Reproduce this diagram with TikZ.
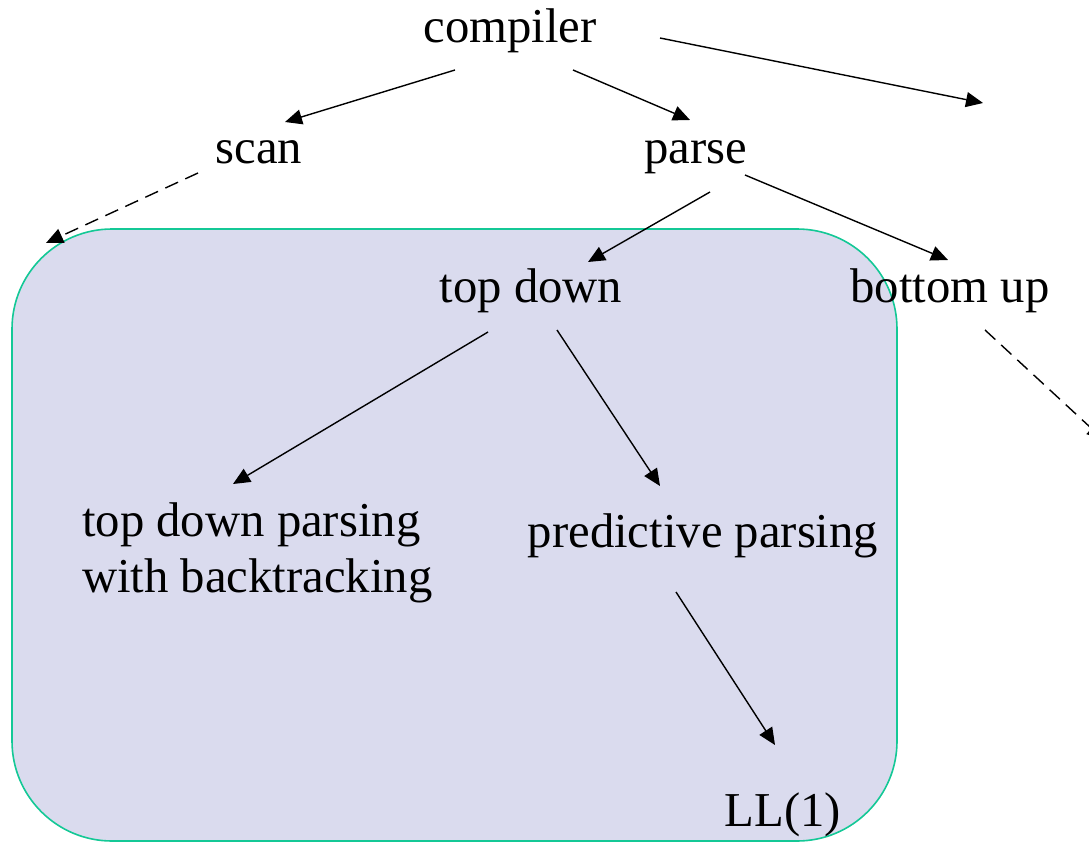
\documentclass[tikz,border=0pt]{standalone}
\usepackage{fontspec}
\setmainfont{Liberation Serif}
\usetikzlibrary{arrows.meta}
\definecolor{boxfill}{RGB}{218,219,238}
\definecolor{boxline}{RGB}{20,200,150}
\begin{document}
\begin{tikzpicture}[x=1pt, y=-1pt, line join=round,
	lbl/.style={inner sep=0pt, anchor=base, font=\fontsize{48.7}{56}\selectfont},
	link/.style={-{Triangle[length=17pt, width=15pt]}, line width=1.4pt},
	dlink/.style={link, dash pattern=on 14pt off 8pt}]
	\useasboundingbox (0,0) rectangle (1089,843);
	\clip (0,0) rectangle (1089,843);
	% the box round top down
	\draw[fill=boxfill, draw=boxline, line width=1.6pt, rounded corners=100pt]
	(12,229) rectangle (897,841);
	\node[lbl] (compiler) at (510,43) {compiler};
	\node[lbl] (scan) at (259,163) {scan};
	\node[lbl] (parse) at (696,163) {parse};
	\node[lbl] (topdown) at (531,302) {top down};
	\node[lbl] (bottomup) at (950,302) {bottom up};
	\node[lbl, anchor=base west, align=left] (backtrack) at (82,592) {top down parsing\\with backtracking};
	\node[lbl] (predictive) at (703,547) {predictive parsing};
	\node[lbl] (ll) at (783,826) {LL(1)};
	\path
	(983,103) coordinate (rest)
	(46,243) coordinate (scanbox)
	(1104,440) coordinate (upbox)
	;
	\draw[link] ([shift={(-55,27)}]compiler.base) -- ([shift={(26,-41)}]scan.base);
	\draw[link] ([shift={(63,27)}]compiler.base) -- ([shift={(-6,-43)}]parse.base);
	\draw[link] ([shift={(150,-5)}]compiler.base) -- (rest);
	\draw[dlink] ([shift={(-61,10)}]scan.base) -- (scanbox);
	\draw[link] ([shift={(14,29)}]parse.base) -- ([shift={(57,-40)}]topdown.base);
	\draw[link] ([shift={(49,12)}]parse.base) -- ([shift={(-2,-42)}]bottomup.base);
	\draw[link] ([shift={(-43,30)}]topdown.base) -- ([shift={(151,-108)}]backtrack.base west);
	\draw[link] ([shift={(26,28)}]topdown.base) -- ([shift={(-43,-61)}]predictive.base);
	\draw[dlink] ([shift={(35,28)}]bottomup.base) -- (upbox);
	\draw[link] ([shift={(-27,45)}]predictive.base) -- ([shift={(-8,-81)}]ll.base);
\end{tikzpicture}
\end{document}
